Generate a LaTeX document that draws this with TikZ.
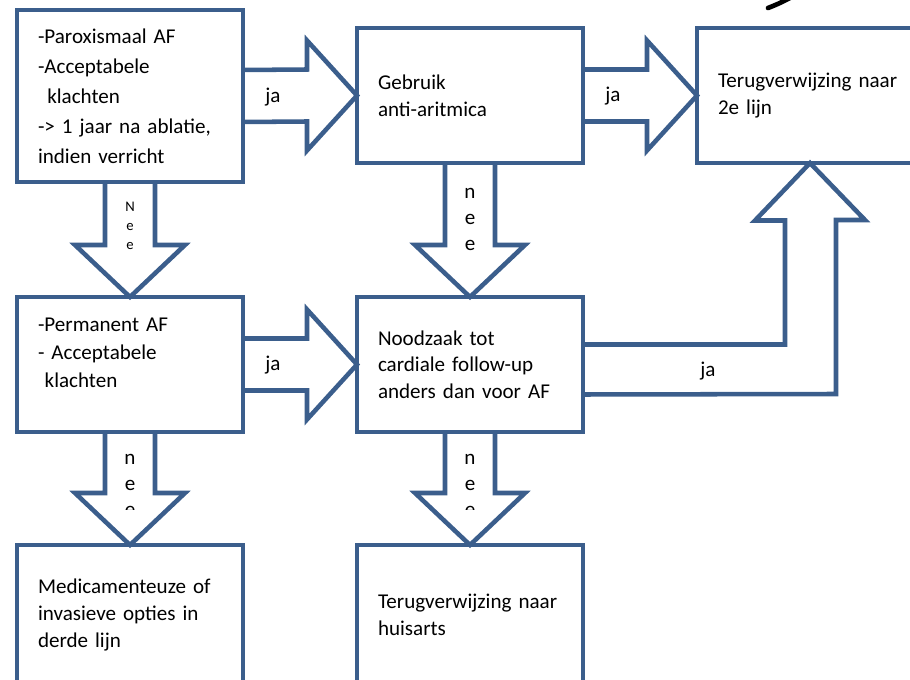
\documentclass[tikz,border=0pt]{standalone}
\usepackage{fontspec}
\setmainfont{Carlito}
\usetikzlibrary{calc}
\definecolor{flowBlue}{RGB}{59,94,140}

% block arrows between the boxes
\newcommand{\jaArrow}[2]{%
  \draw[block] ($(#1.east)+(0,-26)$) -- ($(#2.west)+(-50,-26)$) -- ($(#2.west)+(-50,-55)$)
    -- (#2.west) -- ($(#2.west)+(-50,55)$) -- ($(#2.west)+(-50,26)$) -- ($(#1.east)+(0,26)$);}
\newcommand{\neeArrow}[2]{%
  \draw[block] ($(#1.south)+(-25,0)$) -- ($(#2.north)+(-25,-52)$) -- ($(#2.north)+(-55,-52)$)
    -- (#2.north) -- ($(#2.north)+(55,-52)$) -- ($(#2.north)+(25,-52)$) -- ($(#1.south)+(25,0)$);}

\begin{document}
\begin{tikzpicture}[x=0.75pt, y=-0.75pt]
    % Styles
    \tikzstyle{box} = [rectangle, draw=flowBlue, line width=3.4pt, minimum width=169.5pt, minimum height=101.25pt, inner sep=0pt, outer sep=0pt, text width=138pt, align=left, font=\fontsize{15.8}{20}\selectfont]
    \tikzstyle{block} = [draw=flowBlue, line width=3.4pt, line join=miter]
    \tikzstyle{lbl} = [inner sep=0pt, font=\fontsize{15.8}{19.5}\selectfont]

    \useasboundingbox (0,0) rectangle (910,680);
    \clip (0,0) rectangle (910,680);

    % Nodes
    \node[box, minimum height=129pt, font=\fontsize{15.8}{22.5}\selectfont] (parox) at (130,96)
        {-Paroxismaal AF\\-Acceptabele\\\hspace*{7pt}klachten\\-> 1 jaar na ablatie,\\indien verricht};
    \node[box] (gebruik) at (470,95.5) {Gebruik\\anti-aritmica};
    \node[box] (terug2) at (810,95.5) {Terugverwijzing naar\\2e lijn};
    \node[box, font=\fontsize{15.8}{21}\selectfont] (perm) at (130,364.5)
        {-Permanent AF\\- Acceptabele\\\hspace*{5pt}klachten\\[-3.75pt]\mbox{}};
    \node[box] (noodzaak) at (470,364.5) {Noodzaak tot\\cardiale follow-up\\anders dan voor AF};
    \node[box, minimum height=105pt] (medic) at (130,615) {Medicamenteuze of\\invasieve opties in\\derde lijn};
    \node[box, minimum height=105pt] (huisarts) at (470,615) {Terugverwijzing naar\\huisarts};

    % Arrows
    \jaArrow{parox}{gebruik}
    \jaArrow{gebruik}{terug2}
    \jaArrow{perm}{noodzaak}
    \neeArrow{parox}{perm}
    \neeArrow{gebruik}{noodzaak}
    \neeArrow{perm}{medic}
    \neeArrow{noodzaak}{huisarts}
    \draw[block] ($(noodzaak.east)+(0,-20)$) -- ++(202,0) -- ++(0,-124) -- ++(-30,0) -- (terug2.south)
        -- ++(55,57) -- ++(-29,0) -- ++(0,174) -- ($(noodzaak.east)+(0,30)$);

    % Labels
    \node[lbl] (ja1) at ($(parox.east)+(30,1)$) {ja};
    \node[lbl] (ja2) at ($(gebruik.east)+(30,1)$) {ja};
    \node[lbl] (ja3) at ($(perm.east)+(30,1)$) {ja};
    \node[lbl] (ja4) at ($(noodzaak.east)+(125,7)$) {ja};
    \node[lbl, align=center, font=\fontsize{11}{14.5}\selectfont] (nee1) at ($(parox.south)+(0,44)$) {N\\e\\e};
    \node[lbl, align=center] (nee2) at ($(gebruik.south)+(0,56)$) {n\\e\\e};
    \begin{scope}
        \clip (0,0) rectangle (910,509);
        \node[lbl, align=center] (nee3) at ($(perm.south)+(0,53)$) {n\\e\\e};
        \node[lbl, align=center] (nee4) at ($(noodzaak.south)+(0,53)$) {n\\e\\e};
    \end{scope}

    % stroke cut off at the top
    \draw[line width=3.5pt, black, line cap=round] (768,8) .. controls (778,4) .. (792,-3);
\end{tikzpicture}
\end{document}
